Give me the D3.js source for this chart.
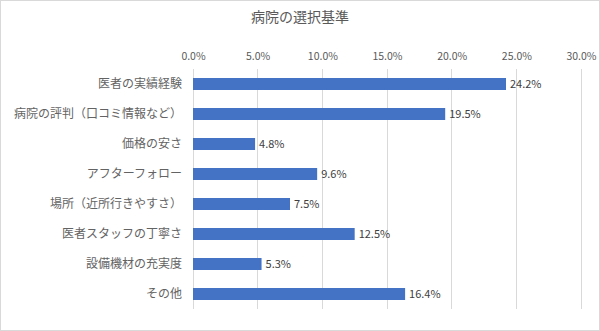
<!DOCTYPE html>
<html><head><meta charset="utf-8">
<script src="https://cdn.jsdelivr.net/npm/d3@7"></script>
<style>
html,body{margin:0;padding:0;background:#fff;}
svg{display:block;font-family:"Noto Sans CJK JP","Noto Sans",sans-serif;}
</style></head>
<body><svg id="c" width="600" height="331"></svg>
<script>
const title = "病院の選択基準";
const categories = ["医者の実績経験","病院の評判（口コミ情報など）","価格の安さ","アフターフォロー","場所（近所行きやすさ）","医者スタッフの丁寧さ","設備機材の充実度","その他"];
const values = [24.2,19.5,4.8,9.6,7.5,12.5,5.3,16.4];
const tickValues = [0,5,10,15,20,25,30];

const svg = d3.select("#c");
svg.append("rect").attr("x",0.5).attr("y",0.5).attr("width",599).attr("height",330)
  .attr("fill","#fff").attr("stroke","#d9d9d9");

const pLeft=193, pRight=581, pTop=69, pBottom=309;
const x = d3.scaleLinear().domain([0,30]).range([pLeft,pRight]);
const y = d3.scaleBand().domain(categories).range([pTop,pBottom]).paddingInner(0.6).paddingOuter(0.3);

svg.append("text").attr("x",300).attr("y",22).attr("text-anchor","middle")
  .attr("font-size",14).attr("fill","#595959").text(title);

// gridlines
svg.append("g").selectAll("line").data(tickValues).join("line")
  .attr("x1",d=>x(d)).attr("x2",d=>x(d)).attr("y1",pTop).attr("y2",pBottom)
  .attr("stroke","#d9d9d9").attr("stroke-width",1).attr("shape-rendering","crispEdges");

// top axis
const ax = svg.append("g").attr("transform",`translate(0,${pTop})`)
  .call(d3.axisTop(x).tickValues(tickValues).tickFormat(d=>d.toFixed(1)+"%").tickSize(0).tickPadding(9));
ax.select(".domain").remove();
ax.selectAll("text").attr("font-size",10.5).attr("fill","#595959").attr("font-family","'Noto Sans CJK JP',sans-serif");

// category axis
const ay = svg.append("g").attr("transform",`translate(${pLeft},0)`)
  .call(d3.axisLeft(y).tickSize(0).tickPadding(11));
ay.select(".domain").remove();
ay.selectAll("text").attr("font-size",12).attr("fill","#636363").attr("font-family","'Noto Sans CJK JP',sans-serif");

// bars
svg.append("g").selectAll("rect").data(values).join("rect")
  .attr("x",x(0)).attr("y",(d,i)=>y(categories[i]))
  .attr("width",d=>x(d)-x(0)).attr("height",y.bandwidth())
  .attr("fill","#4472C4");

// labels
svg.append("g").selectAll("text").data(values).join("text")
  .attr("x",d=>x(d)+4).attr("y",(d,i)=>y(categories[i])+y.bandwidth()/2)
  .attr("dy","0.35em").attr("font-size",11).attr("fill","#404040")
  .text(d=>d.toFixed(1)+"%");
</script></body></html>
